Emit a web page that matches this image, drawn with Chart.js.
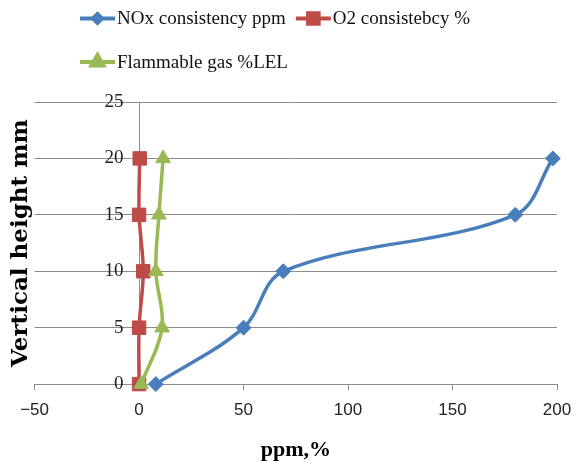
<!DOCTYPE html>
<html>
<head>
<meta charset="utf-8">
<title>Gas consistency vs vertical height</title>
<script src="https://cdn.jsdelivr.net/npm/chart.js@4.4.0/dist/chart.umd.min.js"></script>
<style>
  html, body { margin: 0; padding: 0; background: #fff; }
  #wrap { width: 581px; height: 461px; }
</style>
</head>
<body>
<div id="wrap"><canvas id="gas-chart" width="581" height="461"></canvas></div>
<script>
// Measuring heights (mm) and readings at each height
const heights = [0, 5, 10, 15, 20];
const noxValues = [8, 50, 69, 180, 198];
const o2Values = [0, 0, 2, 0, 0.3];
const flammableValues = [1, 11, 8, 9.5, 11.5];

const seriesNames = ['NOx consistency ppm', 'O2 consistebcy %', 'Flammable gas %LEL'];

// Axis ticks
const xTicks = [-50, 0, 50, 100, 150, 200];
const yTicks = [0, 5, 10, 15, 20, 25];

const GRID = '#8c8c8c';

function toPoints(values) {
    return heights.map((h, i) => ({ x: values[i], y: h }));
}

// Legend drawn in two rows, left aligned like the original
const rowLegend = {
    id: 'rowLegend',
    afterDraw(chart) {
        const ctx = chart.ctx;
        const rows = [[0, 1], [2]];
        const rowY = [18.5, 62];
        ctx.save();
        ctx.font = '19px "Liberation Serif", "Times New Roman", serif';
        ctx.textBaseline = 'middle';
        rows.forEach((row, r) => {
            let x = 80;
            const y = rowY[r];
            row.forEach(idx => {
                const ds = chart.data.datasets[idx];
                ctx.strokeStyle = ds.borderColor;
                ctx.lineWidth = 4;
                ctx.beginPath();
                ctx.moveTo(x, y);
                ctx.lineTo(x + 35, y);
                ctx.stroke();
                ctx.fillStyle = ds.borderColor;
                Chart.helpers.drawPoint(ctx, {
                    pointStyle: ds.pointStyle,
                    radius: ds.legendRadius,
                    borderWidth: 1,
                    rotation: 0
                }, x + 17.5, y);
                ctx.fillStyle = '#111';
                ctx.fillText(ds.label, x + 37, y + 1);
                x += 37 + ctx.measureText(ds.label).width + 10;
            });
        });
        ctx.restore();
    }
};

const series = [
    { values: noxValues, color: '#4A7EBB', style: 'rectRot', radius: 7.5, legendRadius: 4.5 },
    { values: o2Values, color: '#BE4B48', style: 'rect', radius: 9.5, legendRadius: 7.5 },
    { values: flammableValues, color: '#98B954', style: 'triangle', radius: 8.5, legendRadius: 7 }
];

const datasets = series.map((s, i) => ({
    label: seriesNames[i],
    data: toPoints(s.values),
    showLine: true,
    borderColor: s.color,
    backgroundColor: s.color,
    borderWidth: 3.5,
    tension: 0.35,
    pointStyle: s.style,
    pointRadius: s.radius,
    pointHoverRadius: s.radius,
    pointBorderWidth: 1,
    legendRadius: s.legendRadius,
    clip: false,
    order: series.length - 1 - i
}));

new Chart(document.getElementById('gas-chart'), {
    type: 'scatter',
    data: { datasets: datasets },
    plugins: [rowLegend],
    options: {
        responsive: false,
        animation: false,
        layout: { padding: { left: 0, right: 16, top: 102, bottom: 0 } },
        plugins: {
            legend: { display: false },
            tooltip: { enabled: false }
        },
        scales: {
            x: {
                type: 'linear',
                min: -50,
                max: 200,
                afterBuildTicks: scale => { scale.ticks = xTicks.map(v => ({ value: v })); },
                // only the zero line is shown inside the plot: it is the vertical axis
                grid: {
                    drawOnChartArea: true,
                    drawTicks: true,
                    tickLength: 6,
                    color: c => (c.tick && c.tick.value === 0 ? GRID : 'rgba(0,0,0,0)'),
                    tickColor: GRID
                },
                border: { color: GRID },
                ticks: {
                    padding: 9.8,
                    color: '#222',
                    font: { family: '"Liberation Sans", Arial, sans-serif', size: 17 },
                    callback: v => String(v).replace('-', '\u2212')
                },
                title: {
                    display: true,
                    text: 'ppm,%',
                    color: '#000',
                    font: { family: '"Liberation Serif", serif', size: 22, weight: 'bold', lineHeight: 1 },
                    padding: { top: 8.9, bottom: 0 }
                }
            },
            y: {
                type: 'linear',
                // labels sit just left of the zero line
                position: { x: -7.5 },
                min: 0,
                max: 25,
                afterBuildTicks: scale => { scale.ticks = yTicks.map(v => ({ value: v })); },
                grid: { color: GRID, drawTicks: false },
                border: { display: false },
                ticks: {
                    padding: 0,
                    color: '#222',
                    font: { family: '"Liberation Serif", serif', size: 19 }
                }
            },
            yTitle: {
                type: 'linear',
                axis: 'y',
                position: 'left',
                min: 0,
                max: 1,
                grid: { display: false, drawTicks: false },
                border: { display: false },
                ticks: { display: false },
                title: {
                    display: true,
                    text: 'Vertical height mm',
                    color: '#000',
                    font: { family: '"DejaVu Serif", serif', size: 23, weight: 'bold' },
                    padding: { top: 7, bottom: 0 }
                }
            }
        }
    }
});
</script>
</body>
</html>
